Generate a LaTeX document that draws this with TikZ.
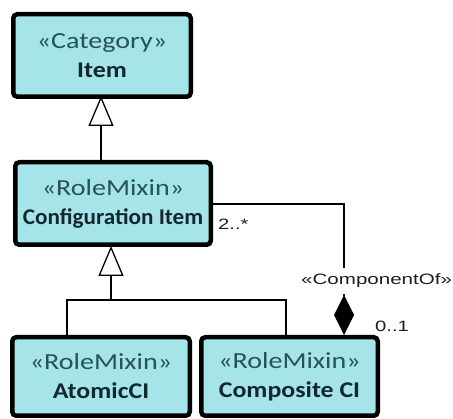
\documentclass[tikz,border=0pt]{standalone}
\usepackage{fontspec}
\setmainfont{Carlito}
\newfontfamily\labfont{Liberation Sans}
\usetikzlibrary{arrows.meta}
\definecolor{boxfill}{RGB}{165,228,233}
\definecolor{stereo}{RGB}{38,82,92}
\definecolor{nametxt}{RGB}{18,40,46}
\definecolor{labtxt}{RGB}{30,30,30}
\tikzset{
  umlbox/.style={draw=black, line width=4.5pt, rounded corners=4pt, fill=boxfill,
    align=center, inner sep=0pt, font=\fontsize{22}{29}\selectfont},
  conn/.style={draw=black, line width=1.3pt},
  gen/.style={conn, -{Triangle[length=30pt,width=25pt,fill=white,line width=1.3pt]}},
  comp/.style={conn, -{Diamond[length=40pt,width=20pt,fill=black]}},
  lab/.style={inner sep=0pt, text=labtxt, font=\labfont\fontsize{15}{18}\selectfont},
}
\newcommand{\st}[1]{\scalebox{1.22}[1]{\fontsize{23}{29}\selectfont\textcolor{stereo}{«#1»}}}
\newcommand{\nm}[2][1.15]{\scalebox{#1}[1]{\fontsize{22.5}{29}\selectfont\textcolor{nametxt}{\textbf{#2}}}}
\newcommand{\wide}[2][1.35]{\scalebox{#1}[1]{#2}}
\begin{document}
\begin{tikzpicture}[x=1pt,y=-1pt]
\clip (0,0) rectangle (453,419);
\fill[white] (0,0) rectangle (453,419);
\node[umlbox, minimum width=177.5pt, minimum height=82.5pt] (item) at (102,55.5) {\st{Category}\\\nm{Item}};
\node[umlbox, minimum width=195.5pt, minimum height=82.5pt] (cfg) at (113,203.5) {\st{RoleMixin}\\\nm[1.03]{Configuration Item}};
\node[umlbox, minimum width=177.5pt, minimum height=78.5pt] (atom) at (101,376.5) {\st{RoleMixin}\\\nm{AtomicCI}};
\node[umlbox, minimum width=176.5pt, minimum height=78.5pt] (compo) at (289.5,376.5) {\st{RoleMixin}\\\nm{Composite CI}};
% generalization Configuration Item -> Item
\coordinate (g1) at (101,0);
\draw[gen] (cfg.north -| g1) -- ([yshift=3pt]item.south -| g1);
% generalization Atomic/Composite -> Configuration Item
\coordinate (j) at (111,300);
\coordinate (ja) at (67,300);
\coordinate (jc) at (286,300);
\draw[gen] (j) -- ([yshift=1pt]cfg.south -| j);
\draw[conn] (atom.north -| ja) -- (ja) -- (jc) -- (compo.north -| jc);
% composition
\coordinate (ac) at (344,204);
\draw[comp] (cfg.east |- ac) -- (ac) -- (compo.north -| ac);
\node[lab, fill=white, anchor=west, inner ysep=6pt, inner xsep=0pt] (co) at (301,281) {\wide[1.37]{«ComponentOf»}};
\node[lab, anchor=base west] (m1) at (218,230) {\wide{2..*}};
\node[lab, anchor=base west] (m2) at (375,332) {\wide{0..1}};
\end{tikzpicture}
\end{document}
